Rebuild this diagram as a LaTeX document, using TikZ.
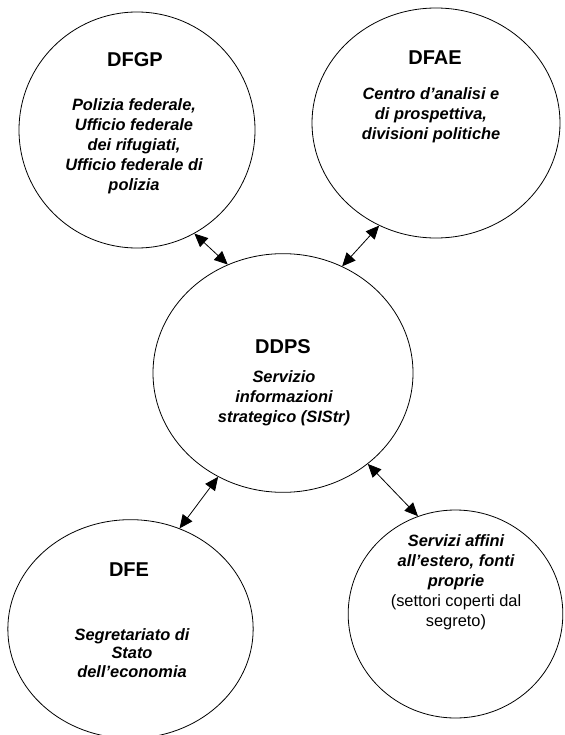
\documentclass[tikz,border=0pt]{standalone}
\usepackage{fontspec}
\setmainfont{Liberation Sans}
\usepackage{tikz}
\usetikzlibrary{shapes, arrows.meta, positioning, calc}

\begin{document}
\begin{tikzpicture}[
    x=0.75pt, y=-0.75pt,
    ufficio/.style={ellipse, draw, line width=0.6pt, inner sep=0pt},
    titolo/.style={font=\fontsize{15}{18}\selectfont\bfseries},
    testo/.style={align=center, inner sep=0pt, font=\fontsize{12.3}{15}\selectfont\bfseries\itshape},
    link/.style={{Triangle[length=10pt,width=9pt]}-{Triangle[length=10pt,width=9pt]}, line width=0.6pt}
]
    \useasboundingbox (0,0) rectangle (564,735);

    % Circles
    \node (dfgp) [ufficio, minimum width=177pt, minimum height=177pt] at (137,130) {};
    \node (dfae) [ufficio, minimum width=186pt, minimum height=172.5pt] at (436,123) {};
    \node (ddps) [ufficio, minimum width=195pt, minimum height=179pt] at (283,373) {};
    \node (dfe) [ufficio, minimum width=184pt, minimum height=164pt] at (130.5,629) {};
    \node (estero) [ufficio, minimum width=161pt, minimum height=156pt] at (455.5,614) {};

    % Titles and texts
    \node (dfgptitle) [titolo] at (135,60) {DFGP};
    \node (dfgptext) [testo] at (134,146) {Polizia federale,\\Ufficio federale\\dei rifugiati,\\Ufficio federale di\\polizia};
    \node (dfaetitle) [titolo] at (435,58) {DFAE};
    \node (dfaetext) [testo] at (431,115) {Centro d’analisi e\\di prospettiva,\\divisioni politiche};
    \node (ddpstitle) [titolo] at (283,347) {DDPS};
    \node (ddpstext) [testo] at (284,398) {Servizio\\informazioni\\strategico (SIStr)};
    \node (dfetitle) [titolo] at (129,570) {DFE};
    \node (dfetext) [testo, font=\fontsize{12.3}{14}\selectfont\bfseries\itshape] at (132,653) {Segretariato di\\Stato\\dell’economia};
    \node (esterotext) [testo] at (456,582) {Servizi affini\\all’estero, fonti\\proprie\\\normalfont(settori coperti dal\\\normalfont segreto)};

    % Links
    \draw[link] (dfgp.-61) -- (ddps.117);
    \draw[link] (dfae.241) -- (ddps.61.6);
    \draw[link] (ddps.238.3) -- (dfe.64);
    \draw[link] (ddps.-47.9) -- (estero.111.4);
\end{tikzpicture}
\end{document}
